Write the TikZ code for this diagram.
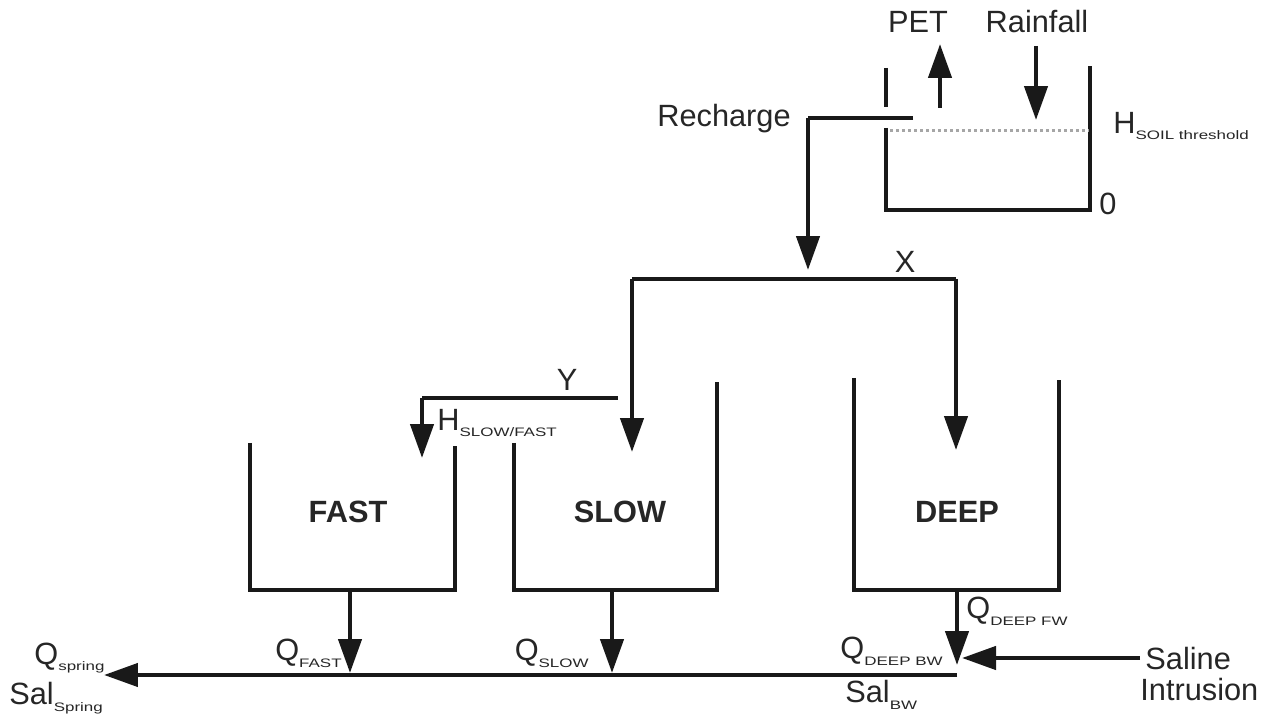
\documentclass[tikz,border=0pt]{standalone}
\usepackage{fontspec}
\setmainfont{Liberation Sans}
\usetikzlibrary{arrows.meta}
\newcommand{\subtxt}[1]{\raisebox{-3.8pt}{\scalebox{1.38}[1]{\fontsize{7pt}{8pt}\selectfont #1}}}
\tikzset{
  lbl/.style={inner sep=0pt, font=\fontsize{17.5pt}{20pt}\selectfont, text=black!85},
  blbl/.style={inner sep=0pt, font=\fontsize{17.5pt}{20pt}\selectfont\bfseries, text=black!85},
  wall/.style={line width=0.088cm, black!90, line join=miter},
  flow/.style={line width=0.088cm, black!90, -{Triangle[length=0.68cm,width=0.46cm]}},
  thresh/.style={line width=0.06cm, gray!70, dash pattern=on 0.06cm off 0.06cm}
}
\begin{document}
\begin{tikzpicture}[x=0.02cm,y=-0.02cm]
\useasboundingbox (0,0) rectangle (1268,719);
% ---------- coordinates ----------
\coordinate (sTL) at (886,68);
\coordinate (sTLb) at (886,107);
\coordinate (sBLt) at (886,128);
\coordinate (sBL) at (886,210);
\coordinate (sBR) at (1090,210);
\coordinate (sTR) at (1090,66);
\coordinate (thA) at (890,131);
\coordinate (thB) at (1088,131);
\coordinate (rcA) at (913,118);
\coordinate (rcB) at (808,118);
\coordinate (rcC) at (808,270);
\coordinate (petA) at (940,108);
\coordinate (petB) at (940,44);
\coordinate (rfA) at (1036,46);
\coordinate (rfB) at (1036,120);
\coordinate (xL) at (632,279);
\coordinate (xR) at (956,279);
\coordinate (xLe) at (632,452);
\coordinate (xRe) at (956,450);
\coordinate (yA) at (618,398);
\coordinate (yB) at (422,398);
\coordinate (yC) at (422,458);
% buckets
\coordinate (fTL) at (250,443);
\coordinate (fBL) at (250,590);
\coordinate (fBR) at (455,590);
\coordinate (fTR) at (455,446);
\coordinate (slTL) at (514,443);
\coordinate (slBL) at (514,590);
\coordinate (slBR) at (717,590);
\coordinate (slTR) at (717,382);
\coordinate (dTL) at (854,378);
\coordinate (dBL) at (854,590);
\coordinate (dBR) at (1059,590);
\coordinate (dTR) at (1059,380);
% outflows
\coordinate (foA) at (350,590);
\coordinate (foB) at (350,673);
\coordinate (soA) at (612,590);
\coordinate (soB) at (612,673);
\coordinate (doA) at (957,590);
\coordinate (doB) at (957,665);
\coordinate (mR) at (957,675);
\coordinate (mL) at (104,675);
\coordinate (saA) at (1140,658);
\coordinate (saB) at (962,658);
% ---------- labels ----------
\node[lbl] (pet) at (918,22) {PET};
\node[lbl] (rain) at (1037,22) {Rainfall};
\node[lbl, anchor=east] (rech) at (791,119) {Recharge};
\node[lbl, anchor=west] (hsoil) at (1113,126) {H\subtxt{SOIL threshold}};
\node[lbl] (zero) at (1108,204) {0};
\node[lbl] (xl) at (905,262) {X};
\node[lbl] (yl) at (567,380) {Y};
\node[lbl, anchor=west] (hsf) at (437,423) {H\subtxt{SLOW/FAST}};
\node[blbl] (fast) at (348,512) {FAST};
\node[blbl] (slow) at (620,512) {SLOW};
\node[blbl] (deep) at (957,512) {DEEP};
\node[lbl, anchor=west] (qdfw) at (966,611) {Q\subtxt{DEEP FW}};
\node[lbl, anchor=east] (qdbw) at (943,651) {Q\subtxt{DEEP BW}};
\node[lbl, anchor=east] (qfast) at (342,653) {Q\subtxt{FAST}};
\node[lbl, anchor=east] (qslow) at (589,653) {Q\subtxt{SLOW}};
\node[lbl, anchor=west] (qspr) at (34,658) {Q\subtxt{spring}};
\node[lbl, anchor=west] (salspr) at (9,698) {Sal\subtxt{Spring}};
\node[lbl, anchor=west] (salbw) at (845,695) {Sal\subtxt{BW}};
\node[lbl, anchor=west, align=left] (saline) at (1140,674) {\,Saline\\[-2pt]Intrusion};
% ---------- soil store ----------
\draw[wall] (sTL) -- (sTLb);
\draw[wall] (sBLt) -- (sBL) -- (sBR) -- (sTR);
\draw[thresh] (thA) -- (thB);
\draw[flow] (petA) -- (petB);
\draw[flow] (rfA) -- (rfB);
\draw[wall] (rcA) -- (rcB);
\draw[flow] (rcB) -- (rcC);
% ---------- X split ----------
\draw[wall] (xL) -- (xR);
\draw[flow] (xL) -- (xLe);
\draw[flow] (xR) -- (xRe);
% ---------- Y overflow ----------
\draw[wall] (yA) -- (yB);
\draw[flow] (yB) -- (yC);
% ---------- buckets ----------
\draw[wall] (fTL) -- (fBL) -- (fBR) -- (fTR);
\draw[wall] (slTL) -- (slBL) -- (slBR) -- (slTR);
\draw[wall] (dTL) -- (dBL) -- (dBR) -- (dTR);
% ---------- outflows ----------
\draw[flow] (foA) -- (foB);
\draw[flow] (soA) -- (soB);
\draw[flow] (doA) -- (doB);
\draw[flow] (mR) -- (mL);
\draw[flow] (saA) -- (saB);
\end{tikzpicture}
\end{document}
